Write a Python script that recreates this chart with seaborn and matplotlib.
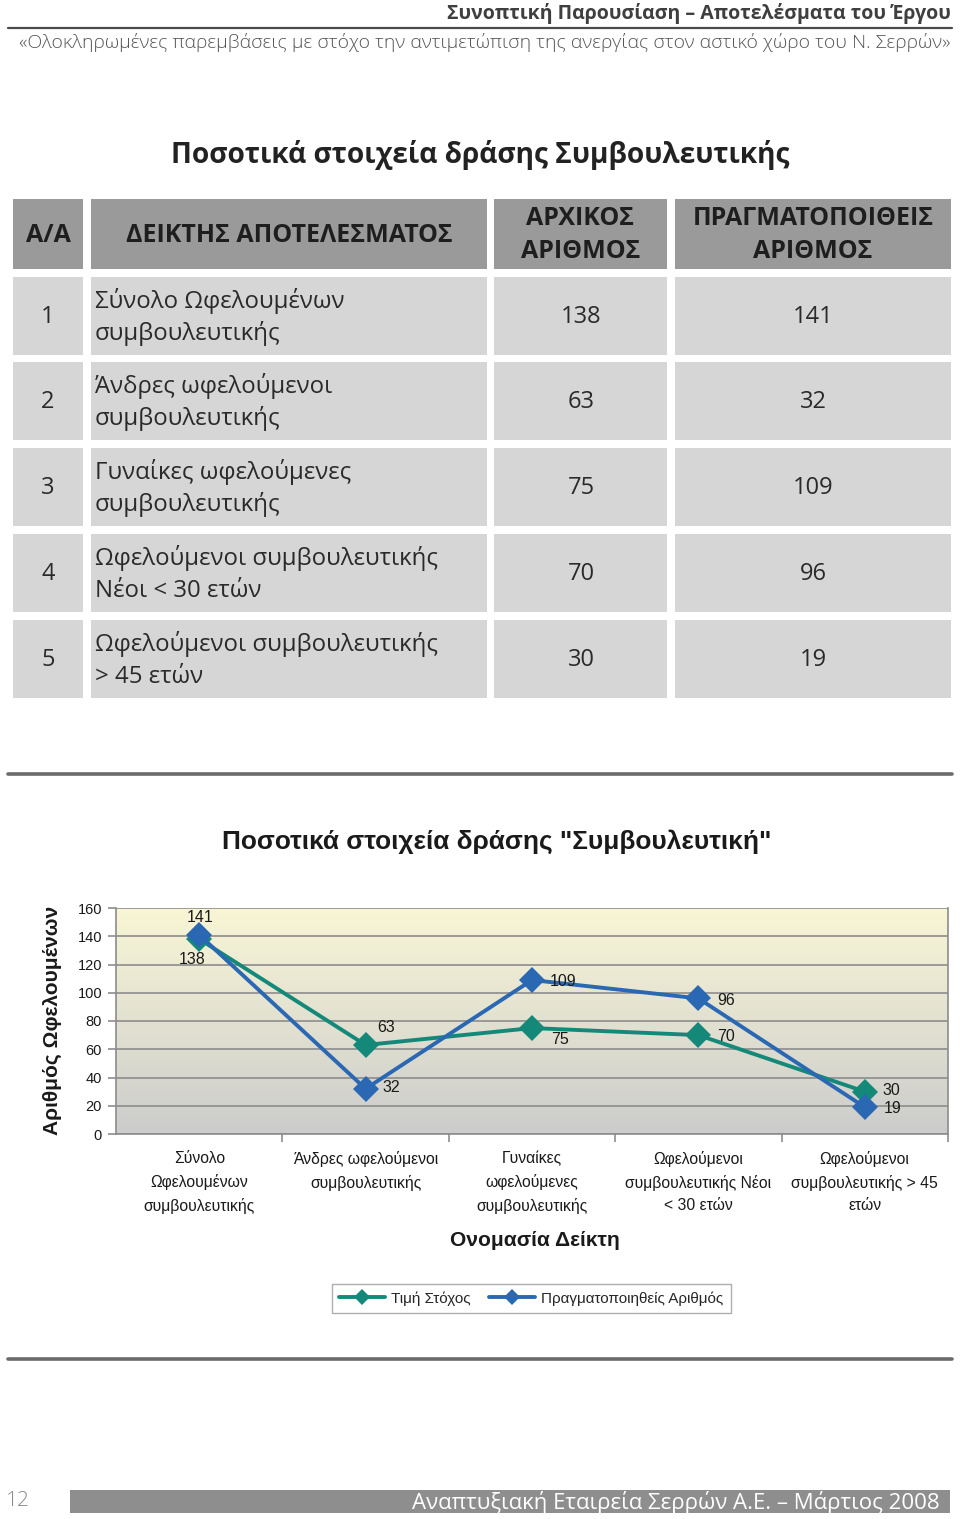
import numpy as np
import pandas as pd
import matplotlib
matplotlib.use("Agg")
import matplotlib.pyplot as plt
from matplotlib.patches import Rectangle
from matplotlib.lines import Line2D
import seaborn as sns

# ---------------- data ----------------
table_headers = ["Α/Α", "ΔΕΙΚΤΗΣ ΑΠΟΤΕΛΕΣΜΑΤΟΣ", "ΑΡΧΙΚΟΣ\nΑΡΙΘΜΟΣ", "ΠΡΑΓΜΑΤΟΠΟΙΘΕΙΣ\nΑΡΙΘΜΟΣ"]
row_numbers = ["1", "2", "3", "4", "5"]
row_labels = [
    "Σύνολο Ωφελουμένων\nσυμβουλευτικής",
    "Άνδρες ωφελούμενοι\nσυμβουλευτικής",
    "Γυναίκες ωφελούμενες\nσυμβουλευτικής",
    "Ωφελούμενοι συμβουλευτικής\nΝέοι < 30 ετών",
    "Ωφελούμενοι συμβουλευτικής\n> 45 ετών",
]
chart_categories = [
    "Σύνολο\nΩφελουμένων\nσυμβουλευτικής",
    "Άνδρες ωφελούμενοι\nσυμβουλευτικής",
    "Γυναίκες\nωφελούμενες\nσυμβουλευτικής",
    "Ωφελούμενοι\nσυμβουλευτικής Νέοι\n< 30 ετών",
    "Ωφελούμενοι\nσυμβουλευτικής > 45\nετών",
]
target_values = [138, 63, 75, 70, 30]
actual_values = [141, 32, 109, 96, 19]
series_names = ["Τιμή Στόχος", "Πραγματοποιηθείς Αριθμός"]
y_ticks = [0, 20, 40, 60, 80, 100, 120, 140, 160]

# ---------------- style ----------------
sns.set_theme(style="white")
plt.rcParams["font.family"] = ["Liberation Sans", "DejaVu Sans"]
TEAL = "#14897a"
BLUE = "#2a68b4"
W, H = 960, 1519

fig = plt.figure(figsize=(W / 100, H / 100), dpi=100)
bg = fig.add_axes([0, 0, 1, 1])
bg.set_xlim(0, W)
bg.set_ylim(H, 0)
bg.axis("off")

page_font = ["Open Sans", "DejaVu Sans"]

# header
bg.text(951, 13, "Συνοπτική Παρουσίαση – Αποτελέσματα του Έργου", ha="right", va="center",
        fontsize=14, fontweight="bold", color="#3f3f3f", family=page_font)
bg.plot([8, 952], [28, 28], color="#4a4a4a", lw=1.6)
bg.text(951, 43, "«Ολοκληρωμένες παρεμβάσεις με στόχο την αντιμετώπιση της ανεργίας στον αστικό χώρο του Ν. Σερρών»",
        ha="right", va="center", fontsize=14, fontweight="light", color="#555555", family=page_font)

# table title
bg.text(480, 155, "Ποσοτικά στοιχεία δράσης Συμβουλευτικής", ha="center", va="center",
        fontsize=20.2, fontweight="bold", color="#222222", family=page_font)

# table
col_x = [(13, 83), (91, 487), (494, 667), (675, 951)]
head_y = (199, 269)
row_y = [(277, 355), (362, 440), (448, 526), (534, 612), (620, 698)]
HEAD_C = "#9a9a9a"
CELL_C = "#d6d6d6"
for (x0, x1), h in zip(col_x, table_headers):
    bg.add_patch(Rectangle((x0, head_y[0]), x1 - x0, head_y[1] - head_y[0], color=HEAD_C, lw=0))
    bg.text((x0 + x1) / 2, (head_y[0] + head_y[1]) / 2 + 1, h, ha="center", va="center",
            fontsize=18, fontweight="bold", color="#1e1e1e", family=page_font, linespacing=1.4)
for i, (y0, y1) in enumerate(row_y):
    for (x0, x1) in col_x:
        bg.add_patch(Rectangle((x0, y0), x1 - x0, y1 - y0, color=CELL_C, lw=0))
    yc = (y0 + y1) / 2
    bg.text(48, yc + 1, row_numbers[i], ha="center", va="center", fontsize=17, color="#2a2a2a", family=page_font)
    bg.text(95, yc + 1, row_labels[i], ha="left", va="center", fontsize=17.3, color="#2a2a2a",
            family=page_font, linespacing=1.42)
    bg.text(581, yc + 1, str(target_values[i]), ha="center", va="center", fontsize=17, color="#2a2a2a", family=page_font)
    bg.text(813, yc + 1, str(actual_values[i]), ha="center", va="center", fontsize=17, color="#2a2a2a", family=page_font)

# separators
bg.plot([8, 952], [774, 774], color="#6b6b6b", lw=2.6)
bg.plot([8, 952], [1359, 1359], color="#6b6b6b", lw=2.6)

# chart title
bg.text(497, 842, "Ποσοτικά στοιχεία δράσης \"Συμβουλευτική\"", ha="center", va="center",
        fontsize=18.9, fontweight="bold", color="#1a1a1a")

# ---------------- chart ----------------
ax_l, ax_r, ax_t, ax_b = 116, 948, 908, 1134
ax = fig.add_axes([ax_l / W, 1 - ax_b / H, (ax_r - ax_l) / W, (ax_b - ax_t) / H])
n = len(chart_categories)
ax.set_xlim(-0.5, n - 0.5)
ax.set_ylim(0, 160)

# gradient background
top = np.array([0.975, 0.965, 0.835])
bot = np.array([0.80, 0.80, 0.80])
t = np.linspace(0, 1, 256)[:, None]
grad = (top[None, :] * (1 - t) + bot[None, :] * t)[:, None, :]
ax.imshow(grad, extent=[-0.5, n - 0.5, 0, 160], aspect="auto", origin="upper", zorder=0)

for yv in y_ticks:
    ax.axhline(yv, color="#8c8c8c", lw=1.2, zorder=1)

df = pd.DataFrame({
    "pos": list(range(n)) * 2,
    "value": target_values + actual_values,
    "series": [series_names[0]] * n + [series_names[1]] * n,
})
sns.lineplot(data=df, x="pos", y="value", hue="series", style="series",
             palette={series_names[0]: TEAL, series_names[1]: BLUE},
             markers={series_names[0]: "D", series_names[1]: "D"}, dashes=False,
             markersize=13, linewidth=2.8, markeredgewidth=0, legend=False, sort=False,
             ax=ax, zorder=3)

# value labels
t_off = [(-7, -20), (21, 18), (28, -11), (28, -1), (27, 1)]
a_off = [(1, 17), (26, 1), (31, -1), (28, -2), (28, -1)]
for i in range(n):
    ax.annotate(str(target_values[i]), (i, target_values[i]), xytext=t_off[i], textcoords="offset pixels",
                ha="center", va="center", fontsize=11.5, color="#1a1a1a", zorder=5)
    ax.annotate(str(actual_values[i]), (i, actual_values[i]), xytext=a_off[i], textcoords="offset pixels",
                ha="center", va="center", fontsize=11.5, color="#1a1a1a", zorder=5)

ax.set_yticks(y_ticks)
ax.set_yticklabels([str(v) for v in y_ticks], fontsize=10.5, color="#1a1a1a")
ax.tick_params(axis="y", length=6, color="#8c8c8c", width=1.2, pad=4, left=True)
ax.set_xticks(range(n))
ax.set_xticklabels(chart_categories, fontsize=11.3, color="#1a1a1a", linespacing=1.62, va="top")
ax.tick_params(axis="x", which="major", length=0, pad=12)
ax.set_xticks([i + 0.5 for i in range(n)], minor=True)
ax.tick_params(axis="x", which="minor", length=6, width=1.2, color="#8c8c8c", bottom=True)
ax.set_xlabel("")
ax.set_ylabel("")
for s in ["left", "right", "bottom"]:
    ax.spines[s].set_color("#8c8c8c")
    ax.spines[s].set_linewidth(1.2)
ax.spines["top"].set_visible(False)

bg.text(52, 1020, "Αριθμός Ωφελουμένων", rotation=90, ha="center", va="center",
        fontsize=15.1, fontweight="bold", color="#1a1a1a")
bg.text(535, 1241, "Ονομασία Δείκτη", ha="center", va="center",
        fontsize=15.1, fontweight="bold", color="#1a1a1a")

handles = [Line2D([], [], color=TEAL, lw=2.8, marker="D", markersize=8, markeredgewidth=0),
           Line2D([], [], color=BLUE, lw=2.8, marker="D", markersize=8, markeredgewidth=0)]
leg = fig.legend(handles, series_names, loc="center", bbox_to_anchor=(531.5 / W, 1 - 1298.5 / H),
                 ncol=2, frameon=True, fancybox=False, fontsize=11, handlelength=3.0,
                 columnspacing=1.2, handletextpad=0.4, borderpad=0.5, edgecolor="#9a9a9a")
leg.get_frame().set_linewidth(1.0)

# footer
bg.add_patch(Rectangle((70, 1490), 880, 23, color="#8e8e8e", lw=0))
bg.text(940, 1502, "Αναπτυξιακή Εταιρεία Σερρών Α.Ε. – Μάρτιος 2008", ha="right", va="center",
        fontsize=16, color="white", family=page_font)
bg.text(18, 1501, "12", ha="center", va="center", fontsize=15, fontweight="light", color="#8a8a8a", family=page_font)

fig.savefig("out.png", dpi=100)
